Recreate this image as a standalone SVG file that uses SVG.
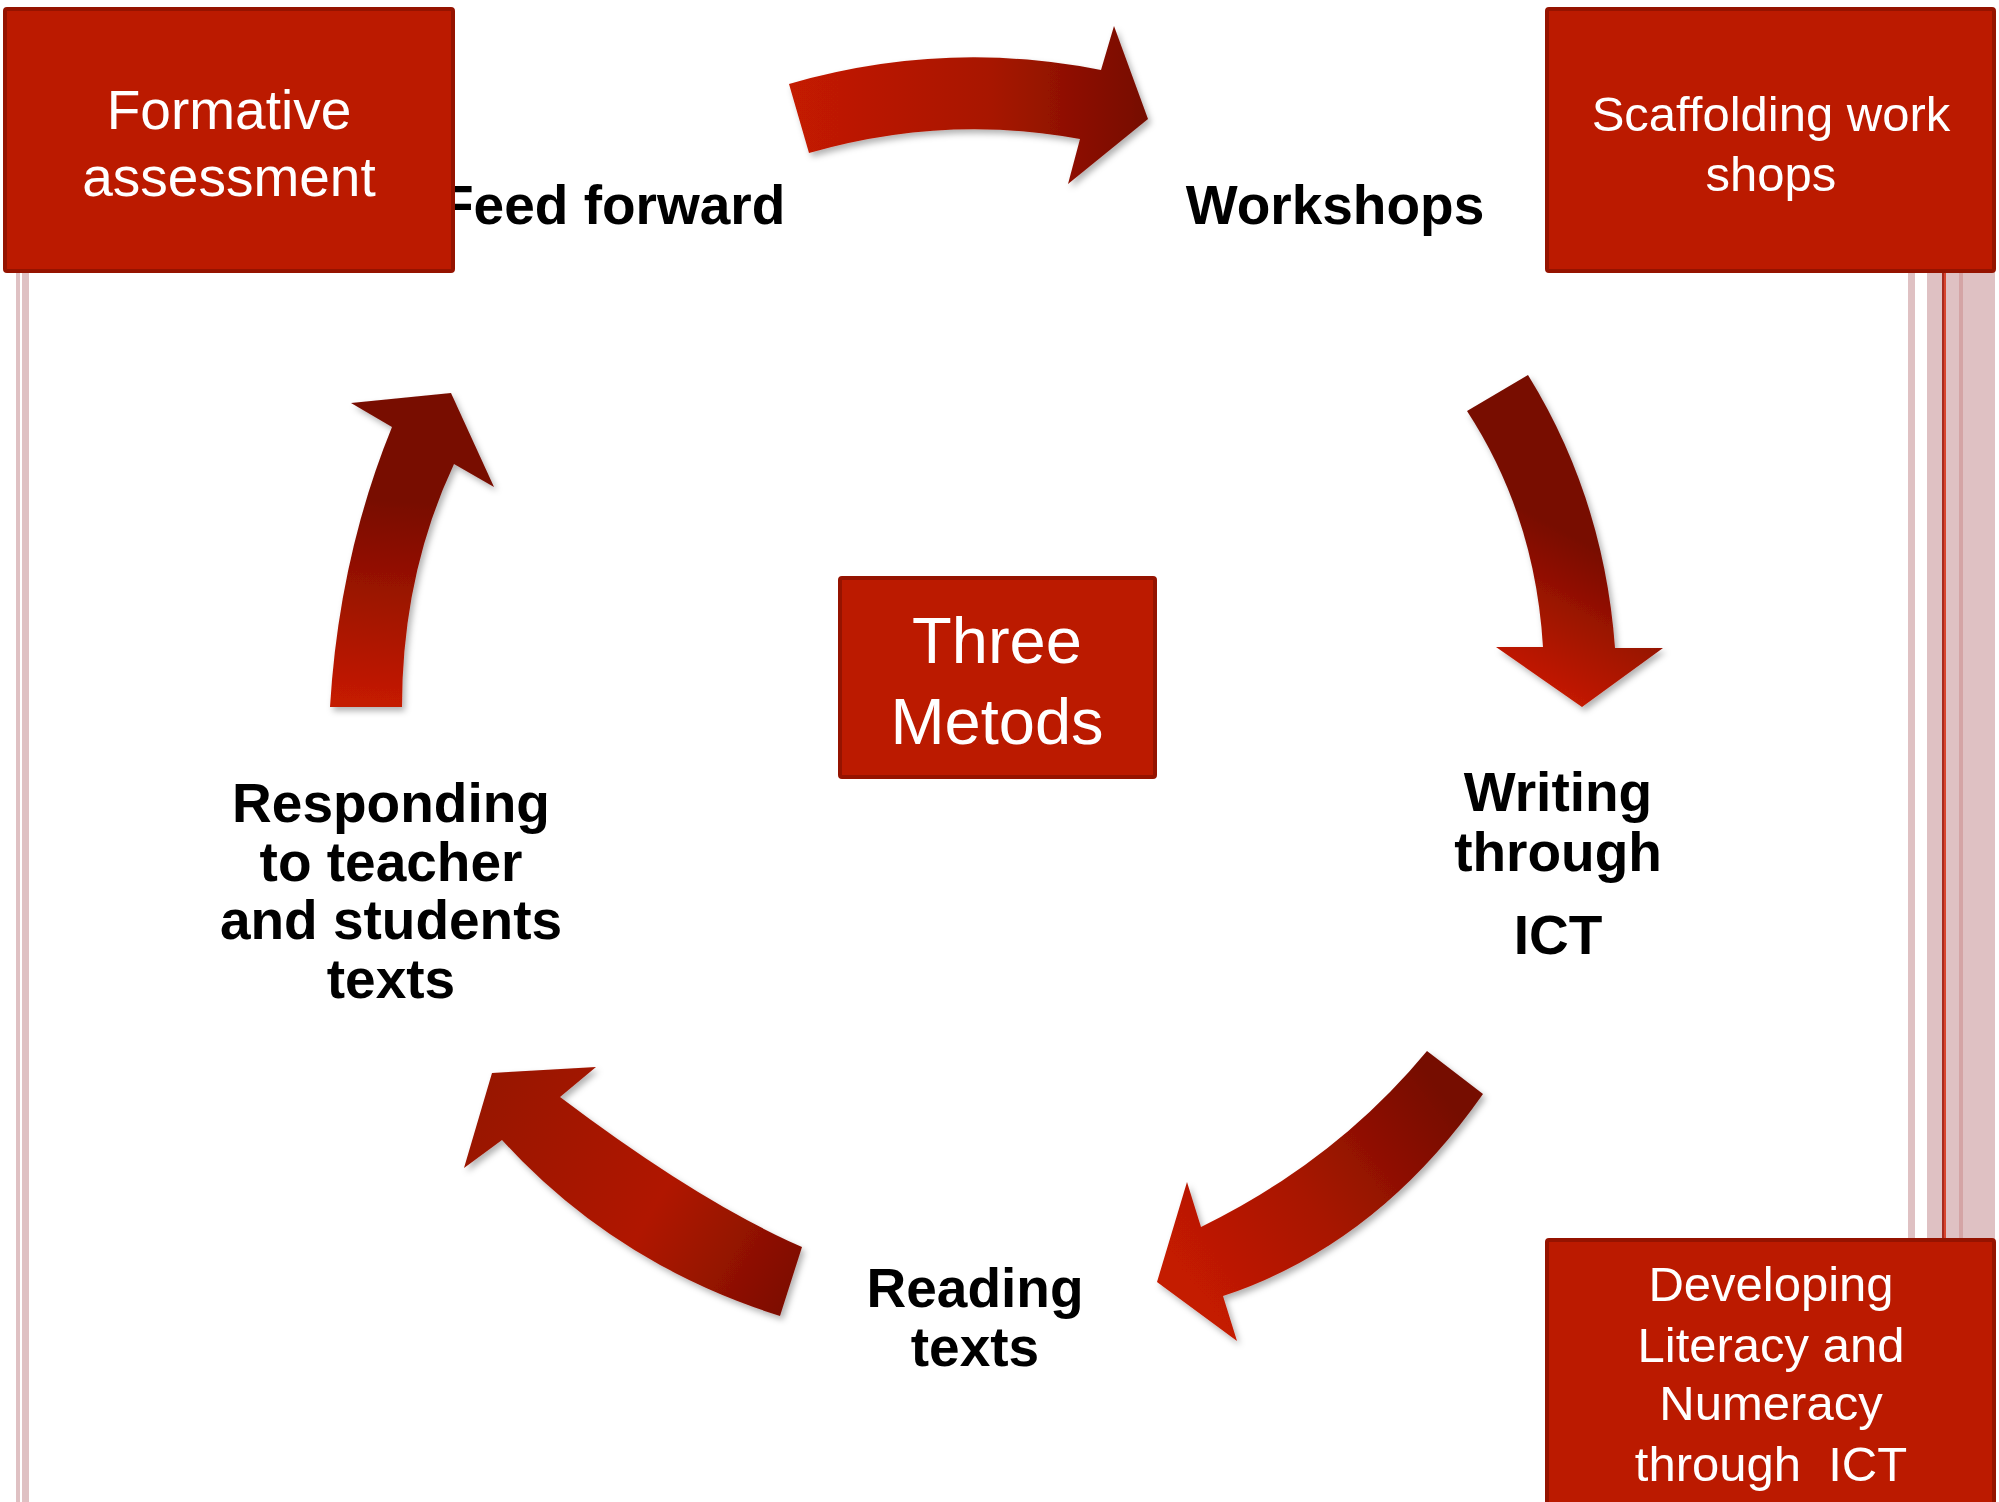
<svg xmlns="http://www.w3.org/2000/svg" width="1999" height="1502" viewBox="0 0 1999 1502">
<defs>
<style>
.box{fill:#BB1A00;stroke:#951300;stroke-width:4}
.bt{font-family:"Liberation Sans",Arial,sans-serif;fill:#FFFFFF;text-anchor:middle}
.lbl{font-family:"Liberation Sans",Arial,sans-serif;font-weight:bold;font-size:55px;fill:#000000;text-anchor:middle}
.stripe{fill:#DFC1C3}
.arrow{filter:url(#sh)}
</style>
<filter id="sh" x="-20%" y="-20%" width="140%" height="140%">
<feDropShadow dx="3" dy="4" stdDeviation="3" flood-color="#000" flood-opacity="0.3"/>
</filter>
<linearGradient id="gTop" gradientUnits="userSpaceOnUse" x1="790" y1="110" x2="1150" y2="110">
<stop offset="0" stop-color="#C41A00"/><stop offset="0.55" stop-color="#A81600"/><stop offset="1" stop-color="#750B00"/>
</linearGradient>
<linearGradient id="gRight" gradientUnits="userSpaceOnUse" x1="1510" y1="670" x2="1580" y2="540">
<stop offset="0" stop-color="#C41A00"/><stop offset="1" stop-color="#780C00"/>
</linearGradient>
<linearGradient id="gBR" gradientUnits="userSpaceOnUse" x1="1440" y1="1090" x2="1190" y2="1280">
<stop offset="0" stop-color="#760B00"/><stop offset="0.55" stop-color="#A81600"/><stop offset="1" stop-color="#C41A00"/>
</linearGradient>
<linearGradient id="gBL" gradientUnits="userSpaceOnUse" x1="800" y1="1290" x2="480" y2="1100">
<stop offset="0" stop-color="#7C0D00"/><stop offset="0.45" stop-color="#B01800"/><stop offset="1" stop-color="#981300"/>
</linearGradient>
<linearGradient id="gLeft" gradientUnits="userSpaceOnUse" x1="366" y1="700" x2="380" y2="500">
<stop offset="0" stop-color="#C41A00"/><stop offset="1" stop-color="#780C00"/>
</linearGradient>
</defs>
<rect x="0" y="0" width="1999" height="1502" fill="#FFFFFF"/>
<g id="decor">
<rect class="stripe" x="16" y="260" width="4" height="1242"/>
<rect class="stripe" x="22" y="260" width="7" height="1242"/>
<rect class="stripe" x="1908" y="260" width="7" height="990"/>
<rect class="stripe" x="1927" y="260" width="68" height="990"/>
<rect x="1959" y="260" width="4" height="990" fill="#D4A4A5"/>
<rect x="1942" y="260" width="2" height="990" fill="#A82A1E"/>
<rect x="1944" y="260" width="2" height="990" fill="#D8452F"/>
</g>
<g id="labels">
<text id="feed-forward" class="lbl" x="440" y="224" style="text-anchor:start">Feed forward</text>
<text id="workshops" class="lbl" x="1335" y="224">Workshops</text>
<text id="writing" class="lbl"><tspan x="1558" y="811">Writing</tspan><tspan x="1558" y="871">through</tspan><tspan x="1558" y="954">ICT</tspan></text>
<text id="reading" class="lbl"><tspan x="975" y="1307">Reading</tspan><tspan x="975" y="1366">texts</tspan></text>
<text id="responding" class="lbl"><tspan x="391" y="822">Responding</tspan><tspan x="391" y="881">to teacher</tspan><tspan x="391" y="939">and students</tspan><tspan x="391" y="998">texts</tspan></text>
</g>
<g id="connectors">
<path class="arrow" fill="url(#gTop)" d="M789,84 Q945,39 1101,70 L1114,26 L1148,119 L1068,184 L1080,139 Q945,114 809,153 Z"/>
<path class="arrow" fill="url(#gRight)" d="M1467,411 Q1535,515 1543,647 L1496,647 L1582,707 L1663,648 L1615,648 Q1604,498 1528,375 Z"/>
<path class="arrow" fill="url(#gBR)" d="M1427,1051 Q1336,1161 1201,1227 L1187,1182 L1157,1282 L1237,1341 L1223,1296 Q1377,1245 1483,1094 Z"/>
<path class="arrow" fill="url(#gBL)" d="M802,1247 Q699,1202 560,1097 L596,1067 L492,1073 L464,1168 L502,1140 Q615,1264 780,1316 Z"/>
<path class="arrow" fill="url(#gLeft)" d="M330,707 Q339,557 392,427 L351,403 L451,393 L494,487 L454,464 Q402,575 402,707 Z"/>
</g>
<g id="formative">
<rect class="box" x="5" y="9" width="448" height="262" rx="2"/>
<text class="bt" font-size="55"><tspan x="229" y="129">Formative</tspan><tspan x="229" y="196">assessment</tspan></text>
</g>
<g id="scaffolding">
<rect class="box" x="1547" y="9" width="447" height="262" rx="2"/>
<text class="bt" font-size="49"><tspan x="1771" y="131">Scaffolding work</tspan><tspan x="1771" y="191">shops</tspan></text>
</g>
<g id="three-metods">
<rect class="box" x="840" y="578" width="315" height="199" rx="2"/>
<text class="bt" font-size="65"><tspan x="997" y="663">Three</tspan><tspan x="997" y="744">Metods</tspan></text>
</g>
<g id="developing">
<rect class="box" x="1547" y="1240" width="447" height="275" rx="2"/>
<text class="bt" font-size="49"><tspan x="1771" y="1301">Developing</tspan><tspan x="1771" y="1362">Literacy and</tspan><tspan x="1771" y="1420">Numeracy</tspan><tspan x="1771" y="1481" xml:space="preserve">through  ICT</tspan></text>
</g>
</svg>
